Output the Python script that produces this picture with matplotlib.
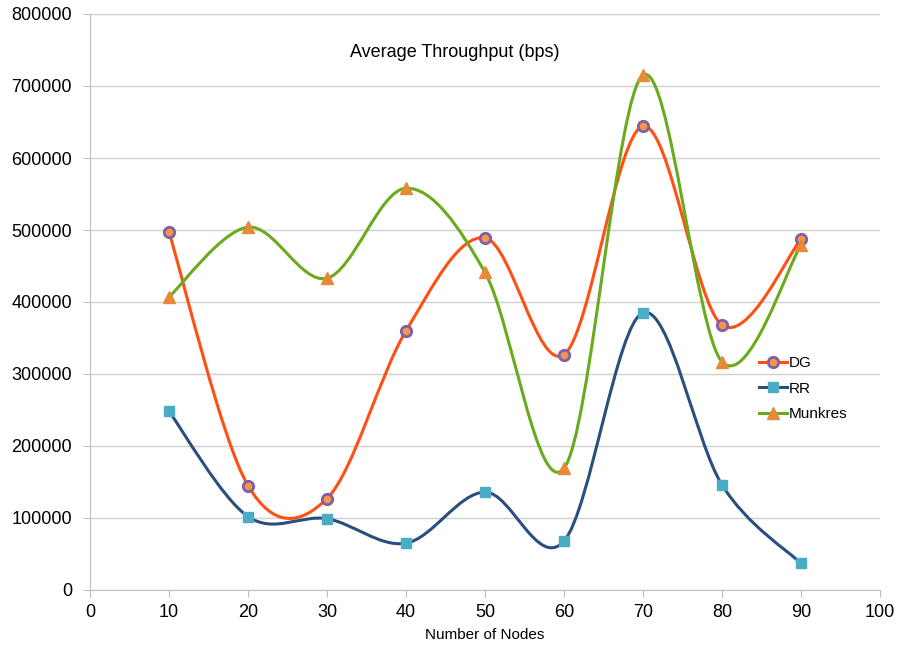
import numpy as np
import matplotlib
matplotlib.use('Agg')
import matplotlib.pyplot as plt
from matplotlib.path import Path
from matplotlib.patches import PathPatch
from matplotlib.lines import Line2D

plt.rcParams['font.family'] = ['Liberation Sans', 'DejaVu Sans']

# Data
nodes = [10, 20, 30, 40, 50, 60, 70, 80, 90]
dg = [497000, 145000, 127000, 360000, 489000, 327000, 644000, 368000, 487000]
rr = [248000, 102000, 99000, 65000, 136000, 68000, 385000, 146000, 37000]
munkres = [407000, 504000, 433000, 558000, 441000, 169000, 715000, 317000, 479000]


def smooth_path(x, y):
    # Excel-like smoothed line: cubic Bezier segments with Catmull-Rom control points
    pts = np.column_stack([x, y]).astype(float)
    n = len(pts)
    verts = [pts[0]]
    codes = [Path.MOVETO]
    for i in range(n - 1):
        p0 = pts[i - 1] if i > 0 else pts[i]
        p1, p2 = pts[i], pts[i + 1]
        p3 = pts[i + 2] if i + 2 < n else pts[i + 1]
        c1 = p1 + (p2 - p0) / 6.0
        c2 = p2 - (p3 - p1) / 6.0
        verts += [c1, c2, p2]
        codes += [Path.CURVE4] * 3
    return Path(verts, codes)


fig = plt.figure(figsize=(8.98, 6.48), dpi=100)
ax = fig.add_axes([90 / 898, 58 / 648, 790 / 898, 576 / 648])

series = [
    ('DG', dg, '#FF5014', 'o', '#F79646', '#7F5FA8', 7.5),
    ('RR', rr, '#2A4F7F', 's', '#4BACC6', '#4BACC6', 6.5),
    ('Munkres', munkres, '#6AAB1E', '^', '#E8893A', '#E8893A', 8),
]

handles = []
for name, vals, lc, mk, mfc, mec, ms in series:
    ax.add_patch(PathPatch(smooth_path(nodes, vals), fill=False, edgecolor=lc,
                           lw=2.2, zorder=2, capstyle='round'))
    ax.plot(nodes, vals, linestyle='none', marker=mk, markersize=ms,
            markerfacecolor=mfc, markeredgecolor=mec, markeredgewidth=2 if mk == 'o' else 1,
            zorder=3)
    handles.append(Line2D([], [], color=lc, lw=2.2, marker=mk, markersize=ms,
                          markerfacecolor=mfc, markeredgecolor=mec,
                          markeredgewidth=2 if mk == 'o' else 1, label=name))

ax.set_xlim(0, 100)
ax.set_ylim(0, 800000)
ax.set_xticks(range(0, 101, 10))
ax.set_yticks(range(0, 800001, 100000))
ax.yaxis.grid(True, color='#D0D0D0', lw=1)
ax.set_axisbelow(True)
for s in ['top', 'right']:
    ax.spines[s].set_visible(False)
for s in ['left', 'bottom']:
    ax.spines[s].set_color('#BFBFBF')
ax.tick_params(axis='both', colors='#BFBFBF', labelcolor='black', labelsize=13,
               length=5, direction='out')
ax.tick_params(axis='y', pad=8)
ax.tick_params(axis='x', pad=5)

ax.set_xlabel('Number of Nodes', fontsize=11, labelpad=5)
ax.text(0.462, 0.934, 'Average Throughput (bps)', transform=ax.transAxes,
        ha='center', va='center', fontsize=13)

ax.legend(handles=handles, loc='upper left', bbox_to_anchor=(0.83, 0.43),
          frameon=False, fontsize=11, handlelength=1.8, handletextpad=0.1,
          labelspacing=0.75)

fig.savefig('out.png', dpi=100)
